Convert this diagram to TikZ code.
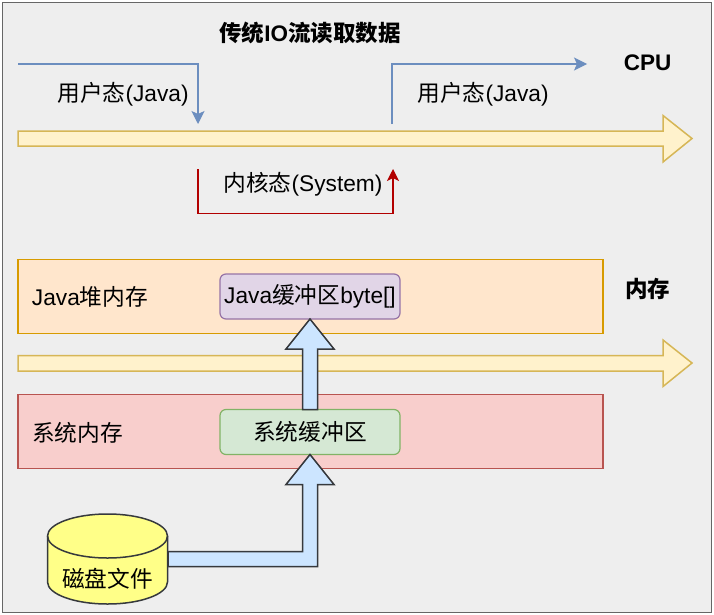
\documentclass[tikz,border=0pt]{standalone}
\usepackage{fontspec}
\setmainfont{Liberation Sans}
\newfontfamily\cjk{Noto Sans CJK SC}
\newcommand{\zh}[1]{{\cjk #1}}
\usetikzlibrary{arrows.meta,calc}
\definecolor{bgc}{HTML}{EEEEEE}
\definecolor{bgl}{HTML}{666666}
\definecolor{yelf}{HTML}{FFF2CC}
\definecolor{yell}{HTML}{D6B656}
\definecolor{orf}{HTML}{FFE6CC}
\definecolor{orl}{HTML}{D79B00}
\definecolor{redf}{HTML}{F8CECC}
\definecolor{redl}{HTML}{B85450}
\definecolor{grf}{HTML}{D5E8D4}
\definecolor{grl}{HTML}{82B366}
\definecolor{puf}{HTML}{E1D5E7}
\definecolor{pul}{HTML}{9673A6}
\definecolor{bluel}{HTML}{6C8EBF}
\definecolor{darkred}{HTML}{B20000}
\definecolor{blockf}{HTML}{CCE5FF}
\definecolor{blockl}{HTML}{36393D}
\definecolor{diskf}{HTML}{FFFF88}
\tikzset{
  x=1pt,y=-1pt,
  every node/.style={font=\fontsize{22.7}{24}\selectfont,text=black,inner sep=0pt,outer sep=0pt},
  label text/.style={anchor=center},
  title text/.style={anchor=center,font=\fontsize{22.5}{24}\selectfont\bfseries},
  region/.style={draw,line width=1.2pt,minimum width=585pt,minimum height=74pt,anchor=north west},
  buffer/.style={draw,line width=1.2pt,rounded corners=6pt,minimum width=180pt,minimum height=45pt},
  bigarrow/.style={draw=yell,fill=yelf,line width=1.5pt,line join=miter},
  blockarrow/.style={draw=blockl,fill=blockf,line width=1.5pt,line join=miter},
  blueflow/.style={draw=bluel,line width=1.2pt,-{Stealth[length=13pt,width=13pt,inset=3pt]}},
  redflow/.style={draw=darkred,line width=1.2pt,-{Stealth[length=12pt,width=12pt,inset=3pt]}}
}
\begin{document}
\begin{tikzpicture}
\useasboundingbox (0,0) rectangle (714,615);
\draw[fill=bgc,draw=bgl,line width=1.5pt] (2.5,2.5) rectangle (711.5,612.5);

% yellow timeline arrows
\draw[bigarrow] (18,131) -- (663,131) -- (663,115.5) -- (692,138.5) -- (663,162) -- (663,146) -- (18,146) -- cycle;
\draw[bigarrow] (18,355.5) -- (663,355.5) -- (663,340) -- (692,363) -- (663,386.5) -- (663,371) -- (18,371) -- cycle;

% memory regions
\node[region,draw=orl,fill=orf] (heap) at (18,259.3) {};
\node[region,draw=redl,fill=redf] (sysmem) at (18,394.8) {};
\node[label text] (heaplabel) at (90,296.5) {Java\zh{堆内存}};
\node[label text] (sysmemlabel) at (77.5,432.5) {\zh{系统内存}};

% buffers
\node[buffer,draw=pul,fill=puf] (javabuf) at (310,296.5) {Java\zh{缓冲区}byte[]};
\node[buffer,draw=grl,fill=grf] (sysbuf) at (310,432) {\zh{系统缓冲区}};

% block arrow: system buffer to java buffer
\draw[blockarrow] (javabuf.south) -- ($(javabuf.south)+(24,30)$) -- ($(javabuf.south)+(7.5,30)$)
  -- ($(sysbuf.north)+(7.5,0)$) -- ($(sysbuf.north)+(-7.5,0)$)
  -- ($(javabuf.south)+(-7.5,30)$) -- ($(javabuf.south)+(-24,30)$) -- cycle;

% disk
\draw[fill=diskf,draw=blockl,line width=1.5pt]
  (47.5,536) -- (47.5,582) arc[start angle=180,end angle=360,x radius=60pt,y radius=22pt]
  -- (167.5,536) arc[start angle=0,end angle=180,x radius=60pt,y radius=22pt] -- cycle;
\draw[draw=blockl,line width=1.5pt]
  (47.5,536) arc[start angle=180,end angle=360,x radius=60pt,y radius=22pt];
\node[label text] (disk) at (107.5,578.5) {\zh{磁盘文件}};
\coordinate (diskside) at (168,559);

% block arrow: disk to system buffer
\draw[blockarrow] (sysbuf.south) -- ($(sysbuf.south)+(24,30)$) -- ($(sysbuf.south)+(7.5,30)$)
  -- ($(sysbuf.south)+(7.5,112)$) -- ($(diskside)+(0,7.5)$) -- ($(diskside)+(0,-7.5)$)
  -- ($(sysbuf.south)+(-7.5,97)$) -- ($(sysbuf.south)+(-7.5,30)$) -- ($(sysbuf.south)+(-24,30)$) -- cycle;

% CPU flows
\coordinate (a0) at (18,64);
\coordinate (a1) at (198,124);
\coordinate (b0) at (392,124);
\coordinate (b1) at (587,64);
\coordinate (c0) at (198,169);
\coordinate (c1) at (393,169);
\draw[blueflow] (a0) -| (a1);
\draw[blueflow] (b0) |- (b1);
\draw[redflow] (c0) -- (198,213.5) -- (393,213.5) -- (c1);

% labels
\node[title text] (title) at (310,33) {\zh{传统}IO\zh{流读取数据}};
\node[title text] (cpu) at (647.5,63) {CPU};
\node[title text] (mem) at (647.5,289) {\zh{内存}};
\node[label text] (user1) at (123,94) {\zh{用户态}(Java)};
\node[label text] (user2) at (483,94) {\zh{用户态}(Java)};
\node[label text] (kernel) at (303,184) {\zh{内核态}(System)};
\end{tikzpicture}
\end{document}
